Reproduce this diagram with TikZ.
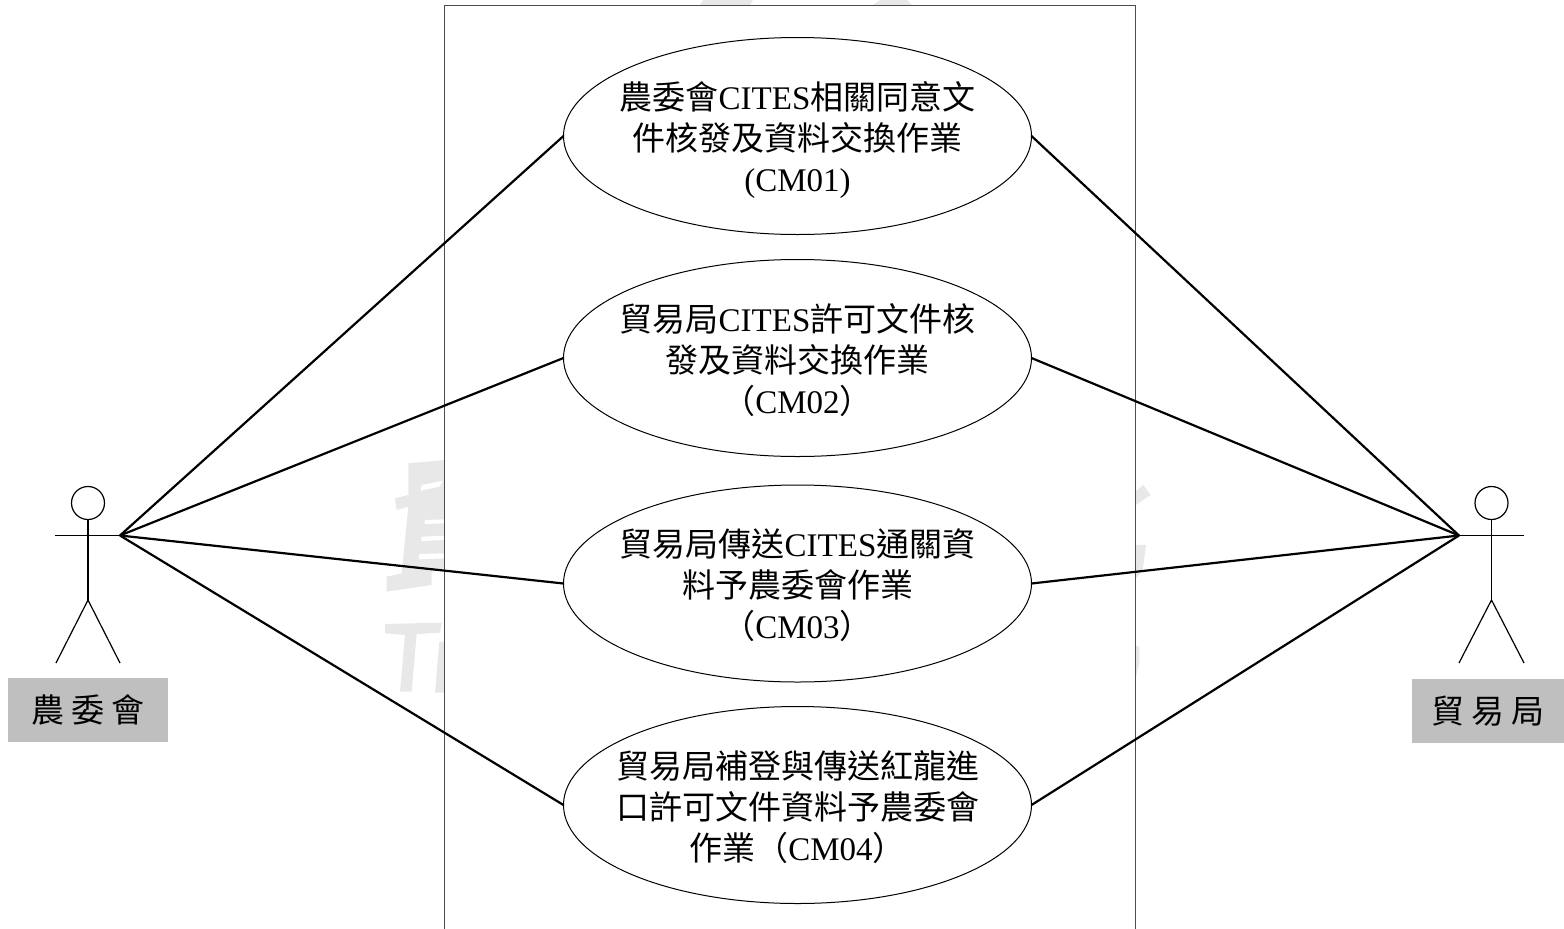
\documentclass[tikz,border=0pt]{standalone}
\usepackage{fontspec}
\setmainfont{Liberation Serif}
\newfontfamily\cjk{Noto Sans CJK TC}
\usetikzlibrary{shapes.geometric}
\newcommand{\zh}[1]{{\cjk #1}}
\newcommand{\uctext}[1]{\makebox[0pt]{\smash{\raisebox{-12.5pt}{\fontsize{33}{41}\selectfont\begin{tabular}{@{}c@{}}#1\end{tabular}}}}}
\tikzset{
  usecase/.style={draw=black,line width=1pt,ellipse,fill=white,inner sep=0pt,outer sep=0pt,minimum width=468pt,minimum height=197pt},
  link/.style={draw=black,line width=2.2pt},
  figure/.style={draw=black,line width=1.2pt},
  wm/.style={fill=black!9,draw=none},
  wmcut/.style={fill=white,draw=none},
  actorlabel/.style={fill=black!25,inner sep=0pt,outer sep=0pt,minimum height=64pt,font=\fontsize{33}{36}\selectfont},
  head/.style={circle,draw=black,line width=1.2pt,inner sep=0pt,outer sep=0pt,minimum size=33pt},
}
\begin{document}
\begin{tikzpicture}[x=1pt,y=-1pt]
\useasboundingbox (0,0) rectangle (1564,929);
% background watermark fragments
\begin{scope}[shift={(380,440)},x=0.3333pt,y=-0.3333pt]
  \fill[wm] (85,70)--(195,60)--(195,385)--(155,395)--(155,435)--(20,455)--(20,410)--(65,400)--(85,200)--(50,210)--(45,175)--(85,165)--cycle;
  \fill[wmcut] (135,240)--(195,238)--(195,250)--(133,252)--cycle;
  \fill[wmcut] (125,290)--(195,287)--(195,300)--(123,303)--cycle;
  \fill[wmcut] (118,342)--(195,340)--(195,355)--(116,358)--cycle;
  \fill[wmcut] (125,135)--(190,122)--(178,140)--(122,152)--cycle;
  \fill[wm] (15,552)--(185,548)--(180,578)--(110,582)--(95,755)--(60,755)--(75,585)--(15,580)--cycle;
  \fill[wm] (178,605)--(195,605)--(195,758)--(165,758)--cycle;
\end{scope}
\begin{scope}[shift={(1040,460)},x=0.3333pt,y=-0.3333pt]
  \fill[wm] (280,100)--(310,75)--(332,105)--(280,140)--cycle;
  \fill[wm] (280,255)--(318,255)--(308,330)--(280,365)--cycle;
  \fill[wm] (280,555)--(298,560)--(298,610)--(280,680)--cycle;
\end{scope}
\fill[wm] (703,0)--(753,0)--(750,5)--(700,5)--cycle;
\fill[wm] (880,0)--(907,0)--(912,5)--(873,5)--cycle;
% system boundary
\fill[white] (444,5) rectangle (1135,929);
\draw[line width=1pt,draw=black!70] (444,929)--(444,5)--(1135,5)--(1135,929);
% use cases
\node[usecase] (e1) at (797.5,136) {\uctext{\zh{農委會}CITES\zh{相關同意文}\\\zh{件核發及資料交換作業}\\(CM01)}};
\node[usecase] (e2) at (797.5,358) {\uctext{\zh{貿易局}CITES\zh{許可文件核}\\\zh{發及資料交換作業}\\\zh{（}CM02\zh{）}}};
\node[usecase] (e3) at (797.5,583.5) {\uctext{\zh{貿易局傳送}CITES\zh{通關資}\\\zh{料予農委會作業}\\\zh{（}CM03\zh{）}}};
\node[usecase] (e4) at (797.5,805) {\uctext{\zh{貿易局補登與傳送紅龍進}\\\zh{口許可文件資料予農委會}\\\zh{作業（}CM04\zh{）}}};
% left actor
\node[head] (lhead) at (88,503) {};
\coordinate (lhip) at (88,600);
\coordinate (lhandL) at (55,535.5);
\coordinate (lhand) at (120,535.5);
\coordinate (lfootL) at (56,663);
\coordinate (lfootR) at (120,663);
\draw[figure] (lhead.south)--(lhip);
\draw[figure] (lhandL)--(lhand);
\draw[figure] (lfootL)--(lhip)--(lfootR);
\node[actorlabel,minimum width=160pt] (lbox) at (88,710) {\zh{農\hspace{7pt}委\hspace{7pt}會}};
% right actor
\node[head] (rhead) at (1491.5,503) {};
\coordinate (rhip) at (1491.5,600);
\coordinate (rhand) at (1459,535.5);
\coordinate (rhandR) at (1524,535.5);
\coordinate (rfootL) at (1459,663);
\coordinate (rfootR) at (1524,663);
\draw[figure] (rhead.south)--(rhip);
\draw[figure] (rhand)--(rhandR);
\draw[figure] (rfootL)--(rhip)--(rfootR);
\node[actorlabel,minimum width=152pt] (rbox) at (1488,711) {\zh{貿\hspace{7pt}易\hspace{7pt}局}};
% connectors
\foreach \e in {e1,e2,e3,e4} {
  \draw[link] (lhand)--(\e.west);
  \draw[link] (rhand)--(\e.east);
}
\end{tikzpicture}
\end{document}
